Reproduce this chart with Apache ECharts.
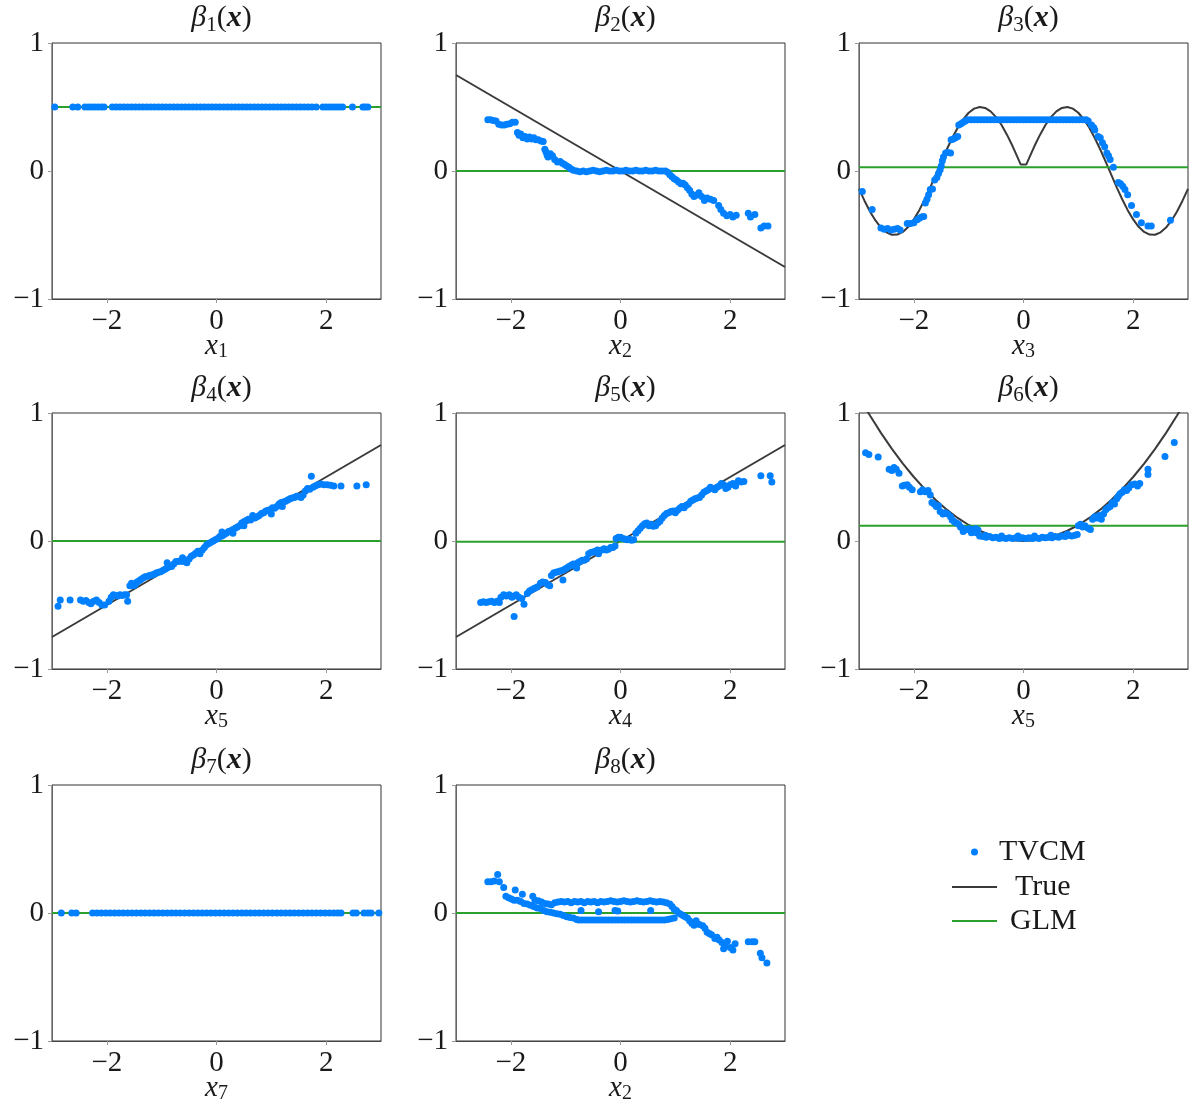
<!DOCTYPE html>
<html><head><meta charset="utf-8">
<script src="https://cdn.jsdelivr.net/npm/echarts@6.0.0/dist/echarts.min.js"></script>
<style>html,body{margin:0;padding:0;background:#fff}#c{width:1198px;height:1104px}</style>
</head><body><div id="c"></div>
<script>
// ---------------- data ----------------
const betaSubs = ['1','2','3','4','5','6','7','8'];
const xSubs = ['1','2','3','5','4','5','7','2'];
const xTickValues = [-2, 0, 2];
const xTickLabels = ['−2', '0', '2'];
const yTickValues = [-1, 0, 1];
const yTickLabels = ['−1', '0', '1'];
const legendNames = ['TVCM', 'True', 'GLM'];

const tvcm1 = [[-2.95,0.5],[-2.62,0.5],[-2.53,0.5],[-2.40,0.5],[-2.34,0.5],[-2.28,0.5],[-2.22,0.5],[-2.16,0.5],[-2.10,0.5],[-2.05,0.5],
[-1.90,0.5],[-1.83,0.5],[-1.76,0.5],[-1.69,0.5],[-1.62,0.5],[-1.55,0.5],[-1.48,0.5],[-1.41,0.5],[-1.34,0.5],[-1.27,0.5],[-1.20,0.5],[-1.13,0.5],[-1.06,0.5],[-0.99,0.5],[-0.92,0.5],[-0.85,0.5],[-0.78,0.5],[-0.71,0.5],[-0.64,0.5],[-0.57,0.5],[-0.50,0.5],[-0.43,0.5],[-0.36,0.5],[-0.29,0.5],[-0.22,0.5],[-0.15,0.5],[-0.08,0.5],[-0.01,0.5],[0.06,0.5],[0.13,0.5],[0.20,0.5],[0.27,0.5],[0.34,0.5],[0.41,0.5],[0.48,0.5],[0.55,0.5],[0.62,0.5],[0.69,0.5],[0.76,0.5],[0.83,0.5],[0.90,0.5],[0.97,0.5],[1.04,0.5],[1.11,0.5],[1.18,0.5],[1.25,0.5],[1.32,0.5],[1.39,0.5],[1.46,0.5],[1.53,0.5],[1.60,0.5],[1.67,0.5],[1.74,0.5],[1.82,0.5],
[1.94,0.5],[2.00,0.5],[2.06,0.5],[2.12,0.5],[2.18,0.5],[2.24,0.5],[2.30,0.5],[2.48,0.5],[2.67,0.5],[2.71,0.5],[2.76,0.5]];

const tvcm2 = [[-2.42,0.40],[-2.37,0.40],[-2.32,0.395],[-2.27,0.39],[-2.22,0.365],[-2.17,0.36],[-2.12,0.36],[-2.07,0.365],[-2.02,0.37],[-1.97,0.38],[-1.92,0.38],
[-1.88,0.30],[-1.85,0.28],[-1.82,0.29],[-1.78,0.26],[-1.74,0.27],[-1.70,0.25],[-1.66,0.265],[-1.62,0.25],[-1.58,0.26],[-1.54,0.245],[-1.50,0.245],[-1.45,0.235],[-1.41,0.23],
[-1.38,0.17],[-1.36,0.15],[-1.34,0.125],[-1.32,0.11],[-1.28,0.135],[-1.24,0.12],
[-1.20,0.09],[-1.15,0.07],[-1.10,0.075],[-1.06,0.06],[-1.02,0.05],[-0.98,0.04],[-0.94,0.03],[-0.90,0.015],
[-0.86,0.005],[-0.80,0.0],[-0.74,-0.005],[-0.68,0.0],[-0.62,-0.005],[-0.56,0.0],[-0.50,0.005],[-0.44,0.0],[-0.38,-0.005],[-0.32,0.0],[-0.26,0.005],[-0.20,0.0],[-0.14,0.0],[-0.08,0.005],[-0.02,0.0],[0.04,0.0],[0.10,0.005],[0.16,0.0],[0.22,0.0],[0.28,0.005],[0.34,0.0],[0.40,0.0],[0.46,0.005],[0.52,0.0],[0.58,0.0],[0.64,0.005],[0.70,0.0],[0.76,0.0],[0.82,0.0],
[0.86,-0.01],[0.90,-0.03],[0.94,-0.045],[0.98,-0.06],[1.02,-0.07],[1.06,-0.085],[1.10,-0.10],[1.14,-0.095],[1.18,-0.11],[1.22,-0.13],
[1.26,-0.15],[1.30,-0.18],[1.34,-0.20],[1.38,-0.19],[1.43,-0.17],[1.48,-0.20],[1.53,-0.23],[1.58,-0.21],[1.64,-0.22],[1.70,-0.23],
[1.79,-0.27],[1.83,-0.30],[1.88,-0.33],[1.94,-0.35],[2.00,-0.34],[2.05,-0.36],[2.11,-0.345],
[2.33,-0.33],[2.37,-0.36],[2.45,-0.34],[2.56,-0.445],[2.62,-0.43],[2.69,-0.43]];

const tvcm3 = [[-2.94,-0.16],[-2.76,-0.30],[-2.60,-0.445],[-2.54,-0.455],[-2.48,-0.45],[-2.42,-0.46],[-2.36,-0.455],[-2.30,-0.45],[-2.25,-0.46],
[-2.12,-0.41],[-2.06,-0.41],[-2.00,-0.405],[-1.94,-0.38],[-1.90,-0.37],[-1.86,-0.36],[-1.82,-0.355],
[-1.79,-0.25],[-1.76,-0.22],[-1.73,-0.185],[-1.70,-0.145],[-1.66,-0.14],[-1.62,-0.07],[-1.58,-0.05],[-1.55,-0.02],[-1.52,0.01],
[-1.50,0.04],[-1.48,0.08],[-1.46,0.11],[-1.42,0.14],[-1.38,0.145],[-1.33,0.14],
[-1.32,0.245],[-1.28,0.25],[-1.24,0.26],[-1.20,0.27],
[-1.18,0.36],[-1.14,0.37],[-1.10,0.38],[-1.06,0.39],
[-1.02,0.40],[-0.96,0.40],[-0.90,0.40],[-0.84,0.40],[-0.78,0.40],[-0.72,0.40],[-0.66,0.40],[-0.60,0.40],[-0.54,0.40],[-0.48,0.40],[-0.42,0.40],[-0.36,0.40],[-0.30,0.40],[-0.24,0.40],[-0.18,0.40],[-0.12,0.40],[-0.06,0.40],[0.00,0.40],[0.06,0.40],[0.12,0.40],[0.18,0.40],[0.24,0.40],[0.30,0.40],[0.36,0.40],[0.42,0.40],[0.48,0.40],[0.54,0.40],[0.60,0.40],[0.66,0.40],[0.72,0.40],[0.78,0.40],[0.84,0.40],[0.90,0.40],[0.96,0.40],[1.02,0.40],[1.08,0.40],[1.14,0.40],[1.18,0.39],
[1.24,0.36],[1.28,0.34],[1.30,0.32],[1.36,0.27],[1.40,0.26],[1.44,0.22],[1.48,0.19],[1.52,0.14],[1.55,0.12],[1.58,0.09],[1.64,0.03],
[1.73,-0.09],[1.77,-0.10],[1.81,-0.12],[1.85,-0.145],[1.90,-0.185],[1.97,-0.27],[2.06,-0.34],[2.15,-0.405],[2.27,-0.43],[2.33,-0.43],[2.68,-0.385]];

const tvcm4 = [[-2.89,-0.51],[-2.85,-0.46],[-2.67,-0.46],[-2.48,-0.46],[-2.43,-0.47],[-2.38,-0.465],[-2.33,-0.48],[-2.29,-0.49],[-2.24,-0.47],[-2.19,-0.46],[-2.14,-0.48],[-2.09,-0.50],[-2.04,-0.50],
[-1.96,-0.47],[-1.92,-0.44],[-1.88,-0.42],[-1.84,-0.425],[-1.80,-0.43],[-1.76,-0.42],[-1.72,-0.425],[-1.68,-0.42],[-1.64,-0.42],[-1.62,-0.47],
[-1.58,-0.35],[-1.55,-0.33],[-1.52,-0.35],[-1.48,-0.34],[-1.45,-0.32],[-1.41,-0.31],[-1.38,-0.30],
[-1.34,-0.29],[-1.30,-0.28],[-1.26,-0.275],[-1.22,-0.27],[-1.18,-0.265],[-1.14,-0.26],[-1.10,-0.25],[-1.06,-0.245],
[-1.02,-0.24],[-0.98,-0.23],[-0.94,-0.22],[-0.90,-0.21],[-0.86,-0.20],[-0.82,-0.20],[-0.78,-0.18],[-0.90,-0.17],
[-0.74,-0.16],[-0.70,-0.16],[-0.66,-0.155],[-0.62,-0.16],[-0.58,-0.155],[-0.54,-0.17],[-0.50,-0.14],[-0.46,-0.12],[-0.62,-0.13],
[-0.42,-0.11],[-0.38,-0.095],[-0.34,-0.08],[-0.30,-0.10],[-0.26,-0.07],[-0.22,-0.05],
[-0.18,-0.03],[-0.14,-0.02],[-0.10,-0.01],[-0.06,0.0],[-0.02,0.01],[0.02,0.02],
[0.06,0.035],[0.10,0.04],[0.14,0.05],[0.18,0.06],[0.22,0.075],[0.26,0.08],[0.30,0.09],[0.34,0.10],[0.38,0.11],[0.10,0.07],[0.30,0.06],
[0.42,0.12],[0.46,0.14],[0.50,0.15],[0.54,0.16],[0.58,0.17],[0.62,0.165],[0.66,0.18],[0.70,0.18],[0.74,0.19],[0.50,0.12],[0.66,0.20],
[0.78,0.20],[0.82,0.215],[0.86,0.22],[0.90,0.235],[0.94,0.24],[0.98,0.245],[1.02,0.26],[1.06,0.255],[1.10,0.27],[1.00,0.21],
[1.14,0.29],[1.18,0.30],[1.22,0.305],[1.26,0.31],[1.30,0.32],[1.34,0.33],[1.38,0.335],[1.42,0.34],[1.46,0.35],[1.50,0.35],[1.54,0.34],[1.58,0.36],[1.20,0.27],
[1.62,0.39],[1.66,0.41],[1.70,0.405],[1.73,0.505],[1.76,0.42],[1.80,0.43],[1.85,0.44],[1.90,0.445],[1.96,0.44],[2.02,0.44],[2.08,0.435],[2.14,0.43],[2.27,0.43],[2.56,0.43],[2.73,0.44]];

const tvcm5 = [[-2.55,-0.48],[-2.50,-0.475],[-2.45,-0.48],[-2.40,-0.475],[-2.35,-0.47],[-2.30,-0.48],[-2.25,-0.47],[-2.21,-0.48],
[-2.18,-0.44],[-2.13,-0.42],[-2.08,-0.43],[-2.03,-0.42],[-1.98,-0.44],[-1.94,-0.43],[-1.90,-0.42],[-1.85,-0.44],[-1.80,-0.45],[-1.94,-0.59],[-1.76,-0.495],
[-1.70,-0.41],[-1.66,-0.39],[-1.62,-0.38],[-1.57,-0.37],[-1.52,-0.36],
[-1.46,-0.33],[-1.42,-0.32],[-1.37,-0.325],[-1.33,-0.34],[-1.29,-0.35],
[-1.26,-0.27],[-1.22,-0.25],[-1.18,-0.245],[-1.14,-0.24],[-1.10,-0.235],[-1.06,-0.23],[-1.05,-0.305],[-1.02,-0.22],
[-0.98,-0.21],[-0.94,-0.20],[-0.90,-0.19],[-0.86,-0.18],[-0.82,-0.185],[-0.78,-0.17],[-0.74,-0.16],[-0.70,-0.15],[-0.66,-0.15],[-0.62,-0.14],[-0.80,-0.21],
[-0.58,-0.10],[-0.54,-0.09],[-0.50,-0.085],[-0.46,-0.08],[-0.42,-0.07],[-0.38,-0.075],[-0.34,-0.07],[-0.30,-0.06],[-0.26,-0.07],[-0.22,-0.065],[-0.18,-0.05],[-0.14,-0.05],[-0.10,-0.04],[-0.40,-0.10],
[-0.08,0.02],[-0.04,0.03],[0.00,0.03],[0.04,0.02],[0.08,0.015],[0.12,0.01],[0.16,0.015],[0.20,0.005],[0.24,0.01],
[0.28,0.06],[0.32,0.08],[0.36,0.10],[0.40,0.12],[0.44,0.135],[0.48,0.14],[0.52,0.12],[0.56,0.13],[0.60,0.115],[0.64,0.12],[0.68,0.14],[0.72,0.155],
[0.76,0.18],[0.80,0.20],[0.84,0.215],[0.88,0.22],[0.92,0.23],[0.96,0.235],[1.00,0.22],[1.04,0.24],[1.08,0.255],[1.12,0.27],[1.16,0.26],[1.20,0.28],
[1.24,0.29],[1.28,0.31],[1.32,0.32],[1.36,0.33],[1.40,0.335],[1.44,0.34],[1.48,0.36],[1.52,0.38],[1.56,0.39],[1.60,0.40],[1.64,0.42],[1.68,0.41],[1.72,0.40],
[1.76,0.42],[1.80,0.43],[1.84,0.45],[1.88,0.44],[1.92,0.41],[1.96,0.42],[2.00,0.44],[2.05,0.45],[2.10,0.43],[2.15,0.47],[2.20,0.46],[2.25,0.465],
[2.56,0.51],[2.73,0.51],[2.76,0.46]];

const tvcm6 = [[-2.88,0.69],[-2.82,0.675],[-2.65,0.656],[-2.45,0.56],[-2.40,0.55],[-2.36,0.575],[-2.32,0.56],[-2.27,0.53],
[-2.21,0.43],[-2.17,0.435],[-2.12,0.44],[-2.08,0.42],[-2.03,0.40],
[-1.88,0.385],[-1.84,0.40],[-1.79,0.385],[-1.74,0.395],[-1.70,0.36],
[-1.67,0.30],[-1.63,0.29],[-1.59,0.27],[-1.55,0.275],
[-1.52,0.23],[-1.47,0.21],[-1.43,0.22],[-1.38,0.21],[-1.33,0.19],
[-1.30,0.165],[-1.26,0.15],[-1.22,0.14],[-1.18,0.13],
[-1.15,0.11],[-1.11,0.10],[-1.07,0.085],[-1.03,0.09],[-0.99,0.095],[-0.95,0.08],[-0.91,0.09],[-0.87,0.095],[-0.83,0.085],[-1.10,0.075],[-0.95,0.065],[-0.86,0.065],
[-0.80,0.04],[-0.74,0.035],[-0.68,0.03],[-0.62,0.035],[-0.56,0.025],[-0.50,0.03],[-0.44,0.02],[-0.38,0.025],[-0.32,0.02],[-0.26,0.025],[-0.20,0.02],[-0.14,0.025],[-0.08,0.02],[-0.02,0.025],[0.04,0.02],[0.10,0.025],[0.16,0.02],[0.22,0.025],[0.28,0.02],[0.34,0.03],[0.40,0.025],[0.46,0.03],[0.52,0.025],[0.58,0.035],[0.64,0.03],[0.70,0.04],[0.76,0.035],[0.82,0.045],[0.88,0.04],[0.94,0.045],[0.98,0.05],
[-0.70,0.045],[-0.40,0.04],[-0.10,0.04],[0.20,0.04],[0.50,0.045],[0.80,0.055],
[1.00,0.12],[1.04,0.13],[1.08,0.11],[1.12,0.12],[1.18,0.10],[1.22,0.09],
[1.26,0.17],[1.30,0.19],[1.34,0.18],[1.38,0.20],[1.42,0.17],[1.46,0.21],
[1.50,0.245],[1.54,0.26],[1.58,0.27],[1.62,0.30],[1.66,0.29],[1.70,0.33],[1.73,0.35],
[1.76,0.37],[1.80,0.38],[1.84,0.40],[1.88,0.395],[1.92,0.415],[1.97,0.44],
[2.03,0.445],[2.08,0.43],[2.12,0.45],
[2.27,0.56],[2.27,0.52],[2.58,0.66],[2.75,0.77]];

const tvcm7 = [[-2.83,0],[-2.64,0],[-2.56,0],
[-2.26,0],[-2.18,0],[-2.10,0],[-2.02,0],[-1.94,0],[-1.86,0],[-1.78,0],[-1.70,0],[-1.62,0],[-1.54,0],[-1.46,0],[-1.38,0],[-1.30,0],[-1.22,0],[-1.14,0],[-1.06,0],[-0.98,0],[-0.90,0],[-0.82,0],[-0.74,0],[-0.66,0],[-0.58,0],[-0.50,0],[-0.42,0],[-0.34,0],[-0.26,0],[-0.18,0],[-0.10,0],[-0.02,0],[0.06,0],[0.14,0],[0.22,0],[0.30,0],[0.38,0],[0.46,0],[0.54,0],[0.62,0],[0.70,0],[0.78,0],[0.86,0],[0.94,0],[1.02,0],[1.10,0],[1.18,0],[1.26,0],[1.34,0],[1.42,0],[1.50,0],[1.58,0],[1.66,0],[1.74,0],[1.82,0],[1.90,0],[1.98,0],[2.06,0],[2.14,0],[2.21,0],
[2.27,0],[2.49,0],[2.55,0],[2.69,0],[2.76,0],[2.82,0],[2.96,0]];

const tvcm8 = [[-2.42,0.245],[-2.36,0.245],[-2.30,0.25],[-2.24,0.30],[-2.21,0.245],[-2.13,0.20],
[-2.09,0.13],[-2.04,0.12],[-1.99,0.11],[-1.94,0.10],[-1.92,0.18],[-1.79,0.146],[-1.60,0.13],
[-1.88,0.10],[-1.82,0.09],[-1.76,0.075],[-1.70,0.07],[-1.64,0.06],[-1.58,0.05],[-1.52,0.04],[-1.46,0.035],[-1.40,0.02],[-1.34,0.01],[-1.28,0.005],[-1.22,0.0],[-1.16,-0.005],[-1.10,-0.01],[-1.04,-0.02],[-0.98,-0.03],[-0.92,-0.035],[-0.86,-0.04],[-0.80,-0.05],
[-1.56,0.10],[-1.50,0.095],[-1.44,0.085],[-1.38,0.075],[-1.32,0.07],[-1.26,0.065],[-1.20,0.08],[-1.14,0.085],[-1.08,0.09],[-1.02,0.085],[-0.96,0.09],[-0.90,0.08],[-0.84,0.09],[-0.78,0.085],[-0.72,0.09],[-0.66,0.08],[-0.60,0.09],[-0.54,0.085],[-0.48,0.09],[-0.42,0.08],[-0.36,0.09],[-0.30,0.085],[-0.24,0.09],[-0.18,0.095],[-0.12,0.09],[-0.06,0.085],[0.00,0.09],[0.06,0.095],[0.12,0.09],[0.18,0.085],[0.24,0.09],[0.30,0.095],[0.36,0.09],[0.42,0.085],[0.48,0.09],[0.54,0.095],[0.60,0.09],[0.66,0.085],[0.72,0.09],[0.78,0.085],[0.84,0.08],
[-0.72,0.02],[-0.40,0.01],[-0.10,0.02],[-0.05,0.015],[0.55,0.02],
[-0.76,-0.055],[-0.70,-0.055],[-0.64,-0.055],[-0.58,-0.055],[-0.52,-0.055],[-0.46,-0.055],[-0.40,-0.055],[-0.34,-0.055],[-0.28,-0.055],[-0.22,-0.055],[-0.16,-0.055],[-0.10,-0.055],[-0.04,-0.055],[0.02,-0.055],[0.08,-0.055],[0.14,-0.055],[0.20,-0.055],[0.26,-0.055],[0.32,-0.055],[0.38,-0.055],[0.44,-0.055],[0.50,-0.055],[0.56,-0.055],[0.62,-0.055],[0.68,-0.055],[0.74,-0.055],[0.80,-0.055],[0.86,-0.05],[0.92,-0.045],[0.98,-0.04],
[0.90,0.07],[0.94,0.05],[0.98,0.03],[1.02,0.02],[1.06,0.0],[1.10,-0.01],[1.14,-0.02],[1.18,-0.03],
[1.22,-0.04],[1.26,-0.06],[1.30,-0.08],[1.34,-0.095],[1.38,-0.06],[1.44,-0.09],[1.50,-0.10],[1.54,-0.12],
[1.58,-0.15],[1.62,-0.16],[1.66,-0.17],[1.72,-0.20],[1.76,-0.19],
[1.80,-0.21],[1.85,-0.23],[1.90,-0.25],[1.95,-0.22],[2.00,-0.27],[2.05,-0.29],[2.09,-0.24],[1.88,-0.28],
[2.33,-0.224],[2.40,-0.224],[2.45,-0.224],[2.55,-0.315],[2.58,-0.35],[2.67,-0.39]];

const true1 = [[-3,0.5],[3,0.5]];
const true2 = [[-3,0.75],[3,-0.75]];
const true3 = [[-3.0,-0.140],[-2.9,-0.232],[-2.8,-0.316],[-2.7,-0.386],[-2.6,-0.442],[-2.5,-0.479],[-2.4,-0.498],[-2.3,-0.497],[-2.2,-0.476],[-2.1,-0.436],[-2.0,-0.378],[-1.9,-0.306],[-1.8,-0.221],[-1.7,-0.128],[-1.6,-0.029],[-1.5,0.071],[-1.4,0.168],[-1.3,0.258],[-1.2,0.338],[-1.1,0.404],[-1.0,0.455],[-0.9,0.487],[-0.8,0.500],[-0.7,0.493],[-0.6,0.466],[-0.5,0.421],[-0.4,0.359],[-0.3,0.282],[-0.2,0.195],[-0.1,0.099],[-0.05,0.05],
[0.05,0.05],[0.1,0.099],[0.2,0.195],[0.3,0.282],[0.4,0.359],[0.5,0.421],[0.6,0.466],[0.7,0.493],[0.8,0.500],[0.9,0.487],[1.0,0.455],[1.1,0.404],[1.2,0.338],[1.3,0.258],[1.4,0.168],[1.5,0.071],[1.6,-0.029],[1.7,-0.128],[1.8,-0.221],[1.9,-0.306],[2.0,-0.378],[2.1,-0.436],[2.2,-0.476],[2.3,-0.497],[2.4,-0.498],[2.5,-0.479],[2.6,-0.442],[2.7,-0.386],[2.8,-0.316],[2.9,-0.232],[3.0,-0.140]];
const true4 = [[-3,-0.75],[3,0.75]];
const true5 = [[-3,-0.75],[3,0.75]];
const true6 = [[-3.0,1.125],[-2.8,0.98],[-2.6,0.845],[-2.4,0.72],[-2.2,0.605],[-2.0,0.5],[-1.8,0.405],[-1.6,0.32],[-1.4,0.245],[-1.2,0.18],[-1.0,0.125],[-0.8,0.08],[-0.6,0.045],[-0.4,0.02],[-0.2,0.005],[0,0],
[0.2,0.005],[0.4,0.02],[0.6,0.045],[0.8,0.08],[1.0,0.125],[1.2,0.18],[1.4,0.245],[1.6,0.32],[1.8,0.405],[2.0,0.5],[2.2,0.605],[2.4,0.72],[2.6,0.845],[2.8,0.98],[3.0,1.125]];
const true7 = [[-3,0],[3,0]];
const true8 = [[-3,0],[3,0]];

const glm1 = [[-3,0.5],[3,0.5]];
const glm2 = [[-3,0],[3,0]];
const glm3 = [[-3,0.03],[3,0.03]];
const glm4 = [[-3,0.0],[3,0.0]];
const glm5 = [[-3,-0.005],[3,-0.005]];
const glm6 = [[-3,0.12],[3,0.12]];
const glm7 = [[-3,0],[3,0]];
const glm8 = [[-3,0],[3,0]];

const tvcmAll = [tvcm1,tvcm2,tvcm3,tvcm4,tvcm5,tvcm6,tvcm7,tvcm8];
const trueAll = [true1,true2,true3,true4,true5,true6,true7,true8];
const glmAll = [glm1,glm2,glm3,glm4,glm5,glm6,glm7,glm8];

// ---------------- layout / style ----------------
const FONT = 'Liberation Serif';
const FS = 29, FSUB = 20, FT = 30, FTSUB = 21;
const BLUE = '#0080ff', GREEN = '#2ca02c', DARK = '#3a3a3a', TXT = '#1a1a1a';
const colLeft = [52, 456, 859], rowTop = [43, 413, 785];
const PW = 329, PH = 256;

const grids = [], xAxes = [], yAxes = [], titles = [], series = [];
for (let i = 0; i < 8; i++) {
  const c = i % 3, r = Math.floor(i / 3);
  const L = colLeft[c], T = rowTop[r];
  grids.push({left: L, top: T, width: PW, height: PH, show: true, borderColor: '#333', borderWidth: 1,
    backgroundColor: 'transparent', containLabel: false, outerBoundsMode: 'none'});
  titles.push({
    text: '{b|β}{s|' + betaSubs[i] + '}{p|(}{x|x}{p|)}',
    left: L + PW / 2, top: T - 48, textAlign: 'center',
    textStyle: {fontWeight: 'normal', rich: {
      b: {fontFamily: FONT, fontStyle: 'italic', fontWeight: 'normal', fontSize: FT, lineHeight: 36, color: TXT},
      s: {fontFamily: FONT, fontWeight: 'normal', fontSize: FTSUB, lineHeight: 21, verticalAlign: 'bottom', color: TXT},
      p: {fontFamily: FONT, fontWeight: 'normal', fontSize: FT, lineHeight: 36, color: TXT},
      x: {fontFamily: FONT, fontStyle: 'italic', fontWeight: 'bold', fontSize: FT, lineHeight: 36, color: TXT}
    }}
  });
  xAxes.push({
    gridIndex: i, type: 'value', min: -3, max: 3, interval: 1,
    splitLine: {show: false},
    axisLine: {show: true, onZero: false, lineStyle: {color: '#444', width: 1}},
    axisTick: {show: true, customValues: xTickValues, length: 4, lineStyle: {color: '#999'}},
    axisLabel: {customValues: xTickValues, margin: 8, fontFamily: FONT, fontSize: FS, color: TXT,
      formatter: v => xTickLabels[xTickValues.indexOf(v)]},
    name: '{x|x}{s|' + xSubs[i] + '}', nameLocation: 'middle', nameGap: 31, nameMoveOverlap: false,
    nameTextStyle: {rich: {
      x: {fontFamily: FONT, fontStyle: 'italic', fontSize: FS, lineHeight: 32, color: TXT},
      s: {fontFamily: FONT, fontSize: FSUB, lineHeight: 20, verticalAlign: 'bottom', color: TXT}
    }}
  });
  yAxes.push({
    gridIndex: i, type: 'value', min: -1, max: 1, interval: 1,
    splitLine: {show: false},
    axisLine: {show: true, onZero: false, lineStyle: {color: '#666', width: 1}},
    axisTick: {show: true, length: 4, lineStyle: {color: '#999'}},
    axisLabel: {margin: 8, fontFamily: FONT, fontSize: FS, color: TXT,
      formatter: v => yTickLabels[yTickValues.indexOf(v)]}
  });
  series.push({name: 'True', type: 'line', xAxisIndex: i, yAxisIndex: i, data: trueAll[i],
    symbol: 'none', showSymbol: false, lineStyle: {color: DARK, width: 2}, itemStyle: {color: DARK}, z: 2, silent: true});
  series.push({name: 'GLM', type: 'line', xAxisIndex: i, yAxisIndex: i, data: glmAll[i],
    symbol: 'none', showSymbol: false, lineStyle: {color: GREEN, width: 2}, itemStyle: {color: GREEN}, z: 3, silent: true});
  series.push({name: 'TVCM', type: 'scatter', xAxisIndex: i, yAxisIndex: i, data: tvcmAll[i],
    symbol: 'circle', symbolSize: 7, itemStyle: {color: BLUE, opacity: 1}, z: 4, silent: true});
}

const legTS = pad => ({fontFamily: FONT, fontSize: 30, color: TXT, lineHeight: 32, padding: [0, 0, 0, pad]});
const legends = [
  {data: [legendNames[0]], left: 966, top: 831, itemWidth: 7, itemHeight: 7, icon: 'circle', textStyle: legTS(16), selectedMode: false},
  {data: [legendNames[1]], left: 947, top: 866, itemWidth: 45, itemHeight: 2, icon: 'rect', textStyle: legTS(13), selectedMode: false},
  {data: [legendNames[2]], left: 947, top: 900, itemWidth: 45, itemHeight: 2, icon: 'rect', textStyle: legTS(8), selectedMode: false}
];

const chart = echarts.init(document.getElementById('c'), null, {renderer: 'canvas'});
chart.setOption({
  animation: false,
  backgroundColor: '#fff',
  title: titles,
  legend: legends,
  grid: grids,
  xAxis: xAxes,
  yAxis: yAxes,
  series: series
});
</script></body></html>
